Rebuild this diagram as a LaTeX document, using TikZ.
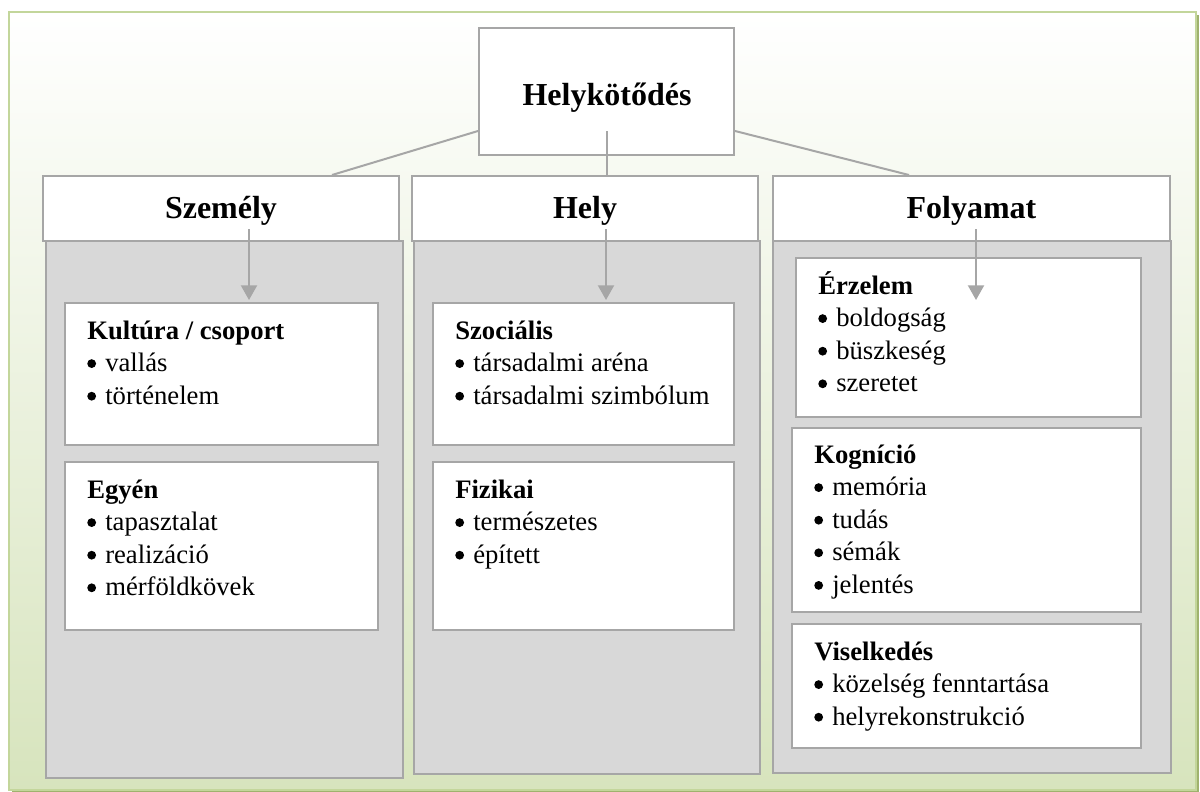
\documentclass[tikz,border=0pt]{standalone}
\usepackage{fontspec}
\setmainfont{Liberation Serif}
\usetikzlibrary{fit,arrows.meta,calc}
\definecolor{bord}{HTML}{A6A6A6}
\definecolor{panel}{HTML}{D8D8D8}
\definecolor{frameg}{HTML}{C3D69B}
\definecolor{shadowg}{HTML}{9FB26E}
\definecolor{bggreen}{HTML}{D7E4BD}
\newcommand\bul{\makebox[13.5pt][l]{\tikz[baseline=0pt]\fill (3.4pt,6pt) circle[radius=3.3pt];}}
\newcommand\blist[5]{%
  \node[subtitle] (#1) at (#2,#3) {#4};
  \foreach \itm [count=\n] in {#5} {
    \node[itemtext] (#1-\n) at (#2,{#3+32.6*\n}) {\bul\itm};
  }%
}
\begin{document}
\begin{tikzpicture}[x=0.75pt,y=-0.75pt,
  whitebox/.style={draw=bord, line width=1.5pt, fill=white, inner sep=0pt},
  panelbox/.style={draw=bord, line width=1.5pt, fill=panel, inner sep=0pt},
  bigtitle/.style={font=\fontsize{24}{28}\selectfont\bfseries, inner sep=0pt, anchor=base},
  subtitle/.style={font=\fontsize{20}{24}\selectfont\bfseries, inner sep=0pt, anchor=base west},
  itemtext/.style={font=\fontsize{20}{24}\selectfont, inner sep=0pt, anchor=base west},
  conn/.style={draw=bord, line width=1.5pt},
  arr/.style={conn, -{Triangle[length=11pt,width=12pt]}}
]
\useasboundingbox (0,0) rectangle (1200,792);
\fill[white] (0,0) rectangle (1200,792);
% outer frame with shadow
\fill[shadowg] (12,15) rectangle (1199,792);
\shade[top color=white, bottom color=bggreen] (9,12) rectangle (1196,790);
\draw[frameg, line width=1.5pt] (9,12) rectangle (1196,790);

% panels
\node[panelbox, fit={(46,241) (403,778)}] (pP) {};
\node[panelbox, fit={(414,241) (760,774)}] (pH) {};
\node[panelbox, fit={(773,241) (1171,773)}] (pF) {};

% headers
\node[whitebox, fit={(43,176) (399,241)}] (hP) {};
\node[whitebox, fit={(412,176) (758,241)}] (hH) {};
\node[whitebox, fit={(773,176) (1170,241)}] (hF) {};
\node[bigtitle] (tP) at (221,218) {Személy};
\node[bigtitle] (tH) at (585,218) {Hely};
\node[bigtitle] (tF) at (971.5,218) {Folyamat};

% top box
\node[whitebox, fit={(479,28) (734,155)}] (top) {};
\node[bigtitle] (tTop) at (607,106) {Helykötődés};

% connectors from top
\coordinate (tL) at ($(top.south west)+(0,-25)$);
\coordinate (tC) at ($(top.south)+(0,-25)$);
\coordinate (tR) at ($(top.south east)+(0,-25)$);
\coordinate (eP) at ($(hP.north west)+(290,0)$);
\coordinate (eF) at ($(hF.north west)+(137,0)$);
\draw[conn] (tL) -- (eP);
\draw[conn] (tR) -- (eF);
\draw[conn] (tC) -- (tC |- hH.north);

% inner boxes
\node[whitebox, fit={(65,303) (378,445)}] (bK) {};
\node[whitebox, fit={(65,462) (378,630)}] (bE) {};
\node[whitebox, fit={(433,303) (734,445)}] (bS) {};
\node[whitebox, fit={(433,462) (734,630)}] (bFi) {};
\node[whitebox, fit={(796,258) (1141,417)}] (bEr) {};
\node[whitebox, fit={(792,428) (1141,612)}] (bKo) {};
\node[whitebox, fit={(792,624) (1141,748)}] (bV) {};

% texts
\blist{lK}{87}{339}{Kultúra / csoport}{vallás,történelem}
\blist{lE}{87}{498}{Egyén}{tapasztalat,realizáció,mérföldkövek}
\blist{lS}{455}{339}{Szociális}{társadalmi aréna,társadalmi szimbólum}
\blist{lFi}{455}{498}{Fizikai}{természetes,épített}
\blist{lEr}{818}{294}{Érzelem}{boldogság,büszkeség,szeretet}
\blist{lKo}{814}{463}{Kogníció}{memória,tudás,sémák,jelentés}
\blist{lV}{814}{660}{Viselkedés}{közelség fenntartása,helyrekonstrukció}

% arrows
\coordinate (aP) at (249,229);
\coordinate (aH) at (606,229);
\coordinate (aF) at (976,229);
\draw[arr] (aP) -- (aP |- 0,300);
\draw[arr] (aH) -- (aH |- 0,300);
\draw[arr] (aF) -- (aF |- 0,300);
\end{tikzpicture}
\end{document}
